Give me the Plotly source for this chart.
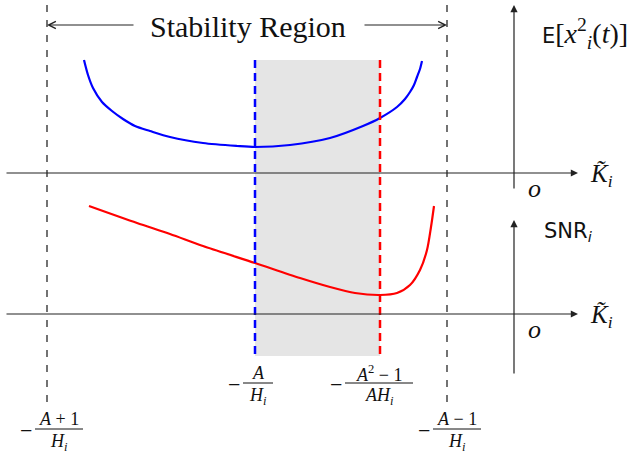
import plotly.graph_objects as go

# Sketch coordinates (x to the right, y downward as in the drawing)
blue_x = [84, 88, 93, 102, 112, 123, 135, 150, 170, 203, 237, 255, 290, 330, 363, 380, 397, 405, 410, 414, 417, 420, 422]
blue_y = [60, 75, 88, 102, 111, 119, 126, 131, 137, 143, 146, 147, 145, 138, 126, 118, 107, 99, 92, 85, 77, 69, 61]

red_x = [89, 137, 170, 203, 255, 300, 330, 355, 380, 397, 410, 420, 427, 431, 434]
red_y = [206, 223, 234, 246, 263, 278, 287, 293, 295, 293, 285, 270, 250, 227, 206]

bound_x = [47, 447]          # -(A+1)/H_i , -(A-1)/H_i
opt_x = [255, 380]           # -A/H_i , -(A^2-1)/(AH_i)
opt_colors = ["blue", "red"]
axis_y = [173, 314]          # top and bottom K axis
origin_x = 514

SERIF = "Liberation Serif"
SANS = "DejaVu Sans"

fig = go.Figure()

fig.add_trace(go.Scatter(x=blue_x, y=blue_y, mode="lines", line_shape="spline",
                         line=dict(color="blue", width=2.2, smoothing=0.8), hoverinfo="skip"))
fig.add_trace(go.Scatter(x=red_x, y=red_y, mode="lines", line_shape="spline",
                         line=dict(color="red", width=2.2, smoothing=0.8), hoverinfo="skip"))

shapes = []
annotations = []

# grey optimal region
shapes.append(dict(type="rect", xref="x", yref="y", x0=opt_x[0], x1=opt_x[1], y0=60, y1=356,
                   fillcolor="#e5e5e5", line_width=0, layer="below"))
for xv, col in zip(opt_x, opt_colors):
    shapes.append(dict(type="line", xref="x", yref="y", x0=xv, x1=xv, y0=60, y1=356,
                       line=dict(color=col, width=2.5, dash="8px,5px")))
for xv in bound_x:
    shapes.append(dict(type="line", xref="x", yref="y", x0=xv, x1=xv, y0=5, y1=402,
                       line=dict(color="black", width=1.1, dash="7px,8px")))

# axes with arrows
def arrow(x0, y0, x1, y1, head=2, size=1.2, width=1.2):
    annotations.append(dict(x=x1, y=y1, ax=x0, ay=y0, xref="x", yref="y", axref="x", ayref="y",
                            text="", showarrow=True, arrowhead=head, arrowsize=size,
                            arrowwidth=width, arrowcolor="#222", standoff=0))

for ay in axis_y:
    arrow(5, ay, 578, ay)
arrow(origin_x, 190, origin_x, 5)
arrow(origin_x, 375, origin_x, 220)

# stability region arrows
arrow(135, 25, bound_x[0], 25, head=5, size=1.3, width=1.1)
arrow(363, 25, bound_x[1], 25, head=5, size=1.3, width=1.1)


def text(x, y, s, size=22, family=SERIF, xanchor="center"):
    annotations.append(dict(x=x, y=y, xref="x", yref="y", text=s, showarrow=False,
                            xanchor=xanchor, yanchor="middle",
                            font=dict(family=family, size=size, color="#111")))


text(248, 26, "Stability Region", size=30)
text(540, 33, "<span style='font-family:DejaVu Sans;font-size:21px'>E</span>[<i>x</i><sup>2</sup><sub><i>i</i></sub>(<i>t</i>)]",
     size=28, xanchor="left")
text(542, 232, "SNR<sub><i>i</i></sub>", size=21, family=SANS, xanchor="left")
for ay in axis_y:
    text(588, ay + 2, "<i>K̃</i><sub><i>i</i></sub>", size=25, xanchor="left")
    text(534, ay + 15, "<i>o</i>", size=26)


def frac(cx, cy, num, den, half):
    # minus sign, numerator, bar, denominator
    text(cx - half - 9, cy + 1, "−", size=22)
    text(cx, cy - 10, num, size=18)
    text(cx, cy + 13, den, size=18)
    shapes.append(dict(type="line", xref="x", yref="y", x0=cx - half, x1=cx + half,
                       y0=cy, y1=cy, line=dict(color="#111", width=1)))


frac(258, 383, "<i>A</i>", "<i>H</i><sub><i>i</i></sub>", 15)
frac(379, 383, "<i>A</i><sup>2</sup> − 1", "<i>AH</i><sub><i>i</i></sub>", 34)
frac(59, 429, "<i>A</i> + 1", "<i>H</i><sub><i>i</i></sub>", 24)
frac(457, 429, "<i>A</i> − 1", "<i>H</i><sub><i>i</i></sub>", 24)

fig.update_layout(
    width=639, height=456,
    margin=dict(l=0, r=0, t=0, b=0),
    paper_bgcolor="white", plot_bgcolor="white",
    showlegend=False,
    xaxis=dict(range=[0, 639], visible=False, fixedrange=True),
    yaxis=dict(range=[456, 0], visible=False, fixedrange=True),
    shapes=shapes,
    annotations=annotations,
)

# drop the page's default body margin so the sketch fills the window
fig.write_html("out.html", config={"displayModeBar": False},
               post_script="document.body.style.margin='0';")
